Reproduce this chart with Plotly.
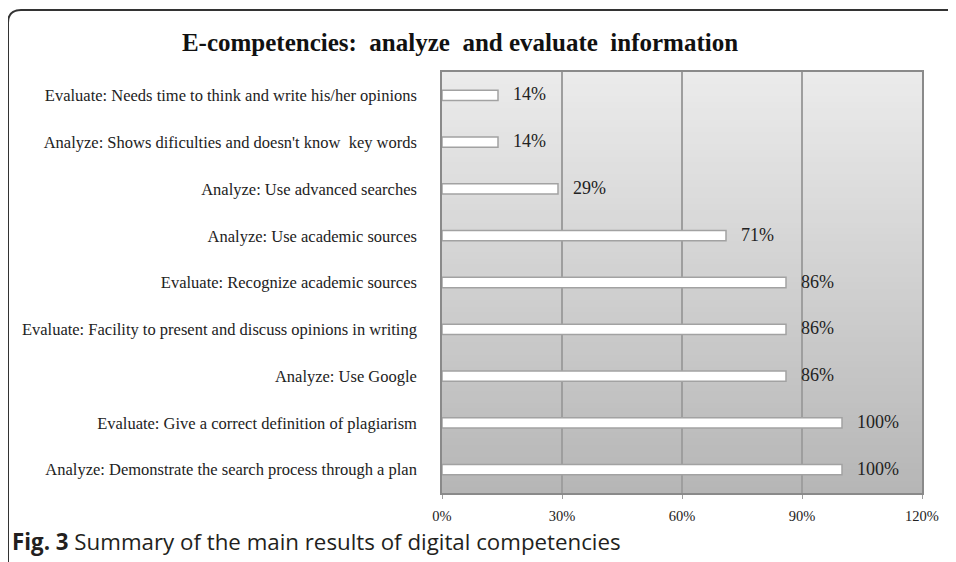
import plotly.graph_objects as go

categories = [
    "Evaluate: Needs time to think and write his/her opinions",
    "Analyze: Shows dificulties and doesn't know  key words",
    "Analyze: Use advanced searches",
    "Analyze: Use academic sources",
    "Evaluate: Recognize academic sources",
    "Evaluate: Facility to present and discuss opinions in writing",
    "Analyze: Use Google",
    "Evaluate: Give a correct definition of plagiarism",
    "Analyze: Demonstrate the search process through a plan",
]
values = [14, 14, 29, 71, 86, 86, 86, 100, 100]
x_ticks = [0, 30, 60, 90, 120]
x_tick_labels = ["0%", "30%", "60%", "90%", "120%"]

# the page body adds an 8px offset; work in reference pixel coords minus 8
OFF = 8
W, H = 956 - OFF, 562 - OFF
L, R, T, B = 442 - OFF, 922 - OFF, 72 - OFF, 493 - OFF


def px(x):
    return (x - OFF - L) / (R - L)


def py(y):
    return (B - (y - OFF)) / (B - T)


SERIF = "Liberation Serif, Times New Roman, serif"

fig = go.Figure()
fig.add_trace(go.Bar(
    x=values, y=categories, orientation="h",
    marker=dict(color="white", line=dict(color="#a2a2a2", width=1.5)),
    width=0.22, hoverinfo="skip",
))

shapes = []
# vertical gradient background of the plot area
n = 70
top_c, bot_c = (235, 235, 235), (182, 182, 182)
for i in range(n):
    t = i / (n - 1)
    c = tuple(round(top_c[k] + (bot_c[k] - top_c[k]) * t) for k in range(3))
    shapes.append(dict(type="rect", xref="paper", yref="paper",
                       x0=0, x1=1, y0=max(0, 1 - (i + 1.6) / n), y1=1 - i / n,
                       fillcolor="rgb(%d,%d,%d)" % c, line=dict(width=0),
                       layer="below"))
# rounded frame
path = "M %f,%f L %f,%f Q %f,%f %f,%f L %f,%f" % (
    px(8), py(575), px(8), py(23), px(8), py(10), px(21), py(10), px(975), py(10))
shapes.append(dict(type="path", xref="paper", yref="paper", path=path,
                   line=dict(color="#333333", width=2), layer="above"))

annotations = []
for cat, v in zip(categories, values):
    annotations.append(dict(x=v, y=cat, xref="x", yref="y", text="%d%%" % v,
                            showarrow=False, xanchor="left", yanchor="middle",
                            xshift=13, yshift=1,
                            font=dict(family=SERIF, size=18, color="#222222")))
annotations.append(dict(xref="paper", yref="paper", x=px(10), y=py(541),
                        xanchor="left", yanchor="middle", showarrow=False,
                        text="<b>Fig. 3</b> Summary of the main results of digital competencies",
                        font=dict(family="Open Sans, Noto Sans, sans-serif", size=22.3,
                                  color="#231f20")))

fig.update_layout(
    width=W, height=H,
    margin=dict(l=L, r=W - R, t=T, b=H - B, pad=0),
    paper_bgcolor="white", plot_bgcolor="rgba(0,0,0,0)",
    showlegend=False,
    title=dict(text="<b>E-competencies:  analyze  and evaluate  information</b>",
               x=(460 - OFF) / W, xanchor="center", y=1 - (42 - OFF) / H, yanchor="middle",
               font=dict(family=SERIF, size=25, color="#111111")),
    shapes=shapes, annotations=annotations,
)
fig.update_xaxes(range=[0, 120], tickvals=x_ticks, ticktext=x_tick_labels,
                 showgrid=True, gridcolor="#9e9e9e", gridwidth=1.5,
                 zeroline=False, showline=True, linecolor="#8a8a8a", linewidth=1.5,
                 mirror=True, ticks="outside", ticklen=4, tickcolor="#9e9e9e",
                 tickfont=dict(family=SERIF, size=14.5, color="#222222"),
                 ticklabelstandoff=5, fixedrange=True)
fig.update_yaxes(autorange="reversed", showgrid=False, zeroline=False,
                 showline=True, linecolor="#8a8a8a", linewidth=1.5, mirror=True,
                 ticks="", tickfont=dict(family=SERIF, size=16.5, color="#222222"),
                 ticklabelstandoff=20, fixedrange=True)

fig.write_html("out.html")
